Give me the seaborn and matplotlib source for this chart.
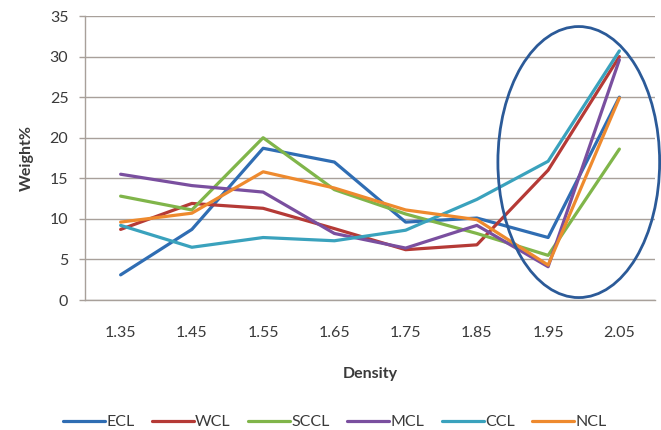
import numpy as np
import pandas as pd
import matplotlib
matplotlib.use("Agg")
import matplotlib.pyplot as plt
from matplotlib.patches import Ellipse
import seaborn as sns

density = ["1.35", "1.45", "1.55", "1.65", "1.75", "1.85", "1.95", "2.05"]
ecl = [3.1, 8.7, 18.7, 17.0, 9.6, 10.1, 7.7, 25.0]
wcl = [8.7, 11.9, 11.3, 8.8, 6.2, 6.8, 16.0, 30.0]
sccl = [12.8, 11.1, 20.0, 13.6, 10.6, 8.2, 5.5, 18.6]
mcl = [15.5, 14.1, 13.3, 8.2, 6.4, 9.2, 4.1, 29.6]
ccl = [9.2, 6.5, 7.7, 7.3, 8.6, 12.4, 17.1, 30.7]
ncl = [9.6, 10.7, 15.8, 13.8, 11.1, 9.9, 4.3, 24.9]

series = {"ECL": ecl, "WCL": wcl, "SCCL": sccl, "MCL": mcl, "CCL": ccl, "NCL": ncl}
colors = {"ECL": "#2F6DB3", "WCL": "#B53A36", "SCCL": "#80B54A",
          "MCL": "#7A4F9F", "CCL": "#3AA2BD", "NCL": "#EE8A2E"}

rows = []
for name, vals in series.items():
    for d, v in zip(density, vals):
        rows.append({"Density": d, "Weight%": v, "group": name})
df = pd.DataFrame(rows)

sns.set_theme(style="white")
plt.rcParams["font.family"] = ["Lato", "DejaVu Sans"]

fig = plt.figure(figsize=(6.61, 4.30), dpi=100)
ax = fig.add_axes([85 / 661, 1 - 300 / 430, 570 / 661, 284 / 430])

sns.lineplot(data=df, x="Density", y="Weight%", hue="group", palette=colors,
             linewidth=2.3, ax=ax, sort=False)

grid_c = "#A8A09A"
txt_c = "#3A3A3A"
fs = 11.5
ax.set_xlim(-0.5, 7.5)
ax.set_ylim(0, 35)
ax.set_yticks(np.arange(0, 36, 5))
ax.yaxis.grid(True, color=grid_c, linewidth=1.0)
ax.set_axisbelow(True)
for s in ["top", "right"]:
    ax.spines[s].set_visible(False)
for s in ["left", "bottom"]:
    ax.spines[s].set_color(grid_c)
    ax.spines[s].set_linewidth(1.0)

ax.set_xticks(range(len(density)))
ax.set_xticklabels(density)
ax.set_xticks(np.arange(-0.5, 7.6, 1), minor=True)
ax.tick_params(axis="x", which="major", length=0, pad=19, labelsize=fs, labelcolor=txt_c)
ax.tick_params(axis="x", which="minor", length=4, width=1, color=grid_c, direction="out")
ax.tick_params(axis="y", length=4, width=1, color=grid_c, direction="out", left=True,
               pad=8, labelsize=fs, labelcolor=txt_c)

ax.set_xlabel("Density", fontsize=fs, fontweight="bold", color=txt_c, labelpad=19)
ax.set_ylabel("Weight%", fontsize=fs, fontweight="bold", color=txt_c, labelpad=11)

ell = Ellipse((6.43, 17.0), width=2.27, height=33.4, fill=False,
              edgecolor="#2B5A98", linewidth=2.0, clip_on=False, zorder=5)
ax.add_patch(ell)

handles, labels = ax.get_legend_handles_labels()
ax.legend(handles, labels, loc="center", bbox_to_anchor=(335 / 661, 1 - 422 / 430),
          bbox_transform=fig.transFigure, ncol=6, frameon=False, fontsize=fs,
          handlelength=2.6, handletextpad=0.1, columnspacing=1.1, labelcolor=txt_c)

fig.savefig("out.png", dpi=100)
